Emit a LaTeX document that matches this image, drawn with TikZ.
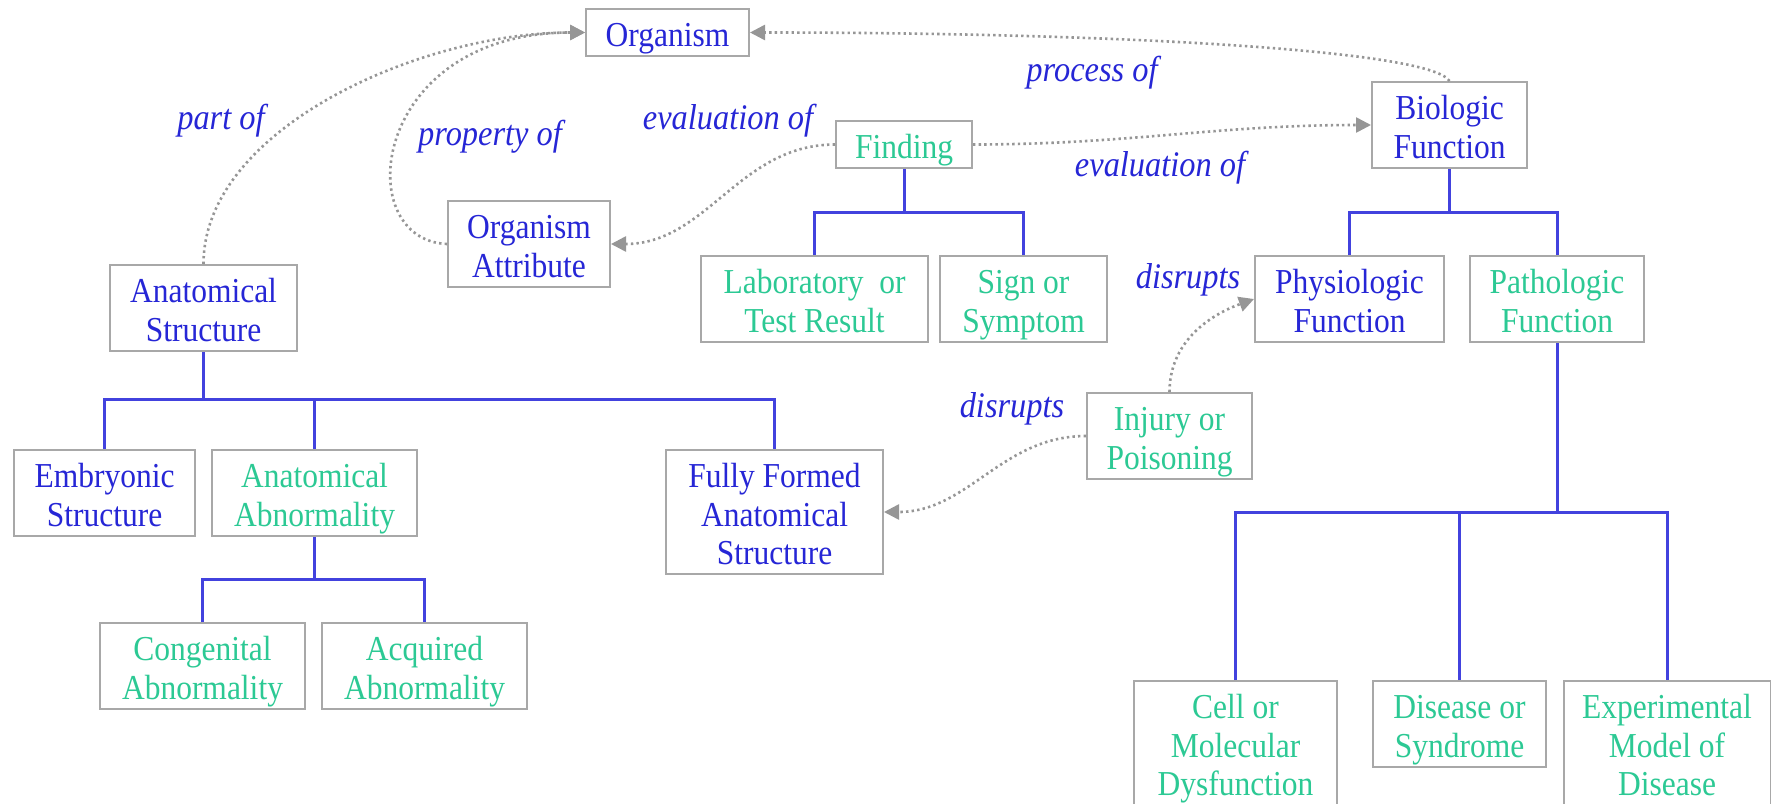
\documentclass[tikz,border=0pt]{standalone}
\usepackage{fontspec}
\setmainfont{Liberation Serif}[FakeStretch=0.9]
\usetikzlibrary{arrows.meta}
\definecolor{tblue}{RGB}{38,38,214}
\definecolor{tgreen}{RGB}{44,201,148}
\definecolor{lblue}{RGB}{66,66,222}
\definecolor{bgray}{RGB}{168,168,168}
\definecolor{agray}{RGB}{150,150,150}
\newcommand\TS{\rule{0pt}{36pt}}
\newcommand\BS{\rule[-8pt]{0pt}{8pt}}
\tikzset{
  box/.style={draw=bgray, line width=2pt, fill=white, align=center, inner sep=0pt,
    font=\fontsize{35}{38.5}\selectfont},
  bt/.style={box, text=tblue},
  gt/.style={box, text=tgreen},
  tree/.style={draw=lblue, line width=3pt},
  rel/.style={draw=agray, line width=2.6pt, dash pattern=on 2.4pt off 3.2pt,
    -{Triangle[length=15pt,width=15pt,fill=agray]}},
  lab/.style={text=tblue, inner sep=0pt, font=\fontsize{36}{40}\selectfont\itshape}
}
\begin{document}
\begin{tikzpicture}[x=1pt,y=-1pt]
\useasboundingbox (0,0) rectangle (1771,803);
\fill[white] (0,0) rectangle (1771,803);

% boxes
\node[bt, minimum width=163, minimum height=47] (org) at (667.5,32.5) {\TS Organism\BS};
\node[bt, minimum width=162, minimum height=86] (oattr) at (529,244) {\TS Organism\\Attribute\BS};
\node[bt, minimum width=187, minimum height=86] (anat) at (203.5,308) {\TS Anatomical\\Structure\BS};
\node[gt, minimum width=136, minimum height=47] (find) at (904,144.5) {\TS Finding\BS};
\node[bt, minimum width=155, minimum height=86] (bio) at (1449.5,125) {\TS Biologic\\Function\BS};
\node[gt, minimum width=227, minimum height=86] (lab) at (814.5,299) {\TS Laboratory\ \ or\\Test Result\BS};
\node[gt, minimum width=167, minimum height=86] (sign) at (1023.5,299) {\TS Sign or\\Symptom\BS};
\node[bt, minimum width=189, minimum height=86] (phys) at (1349.5,299) {\TS Physiologic\\Function\BS};
\node[gt, minimum width=174, minimum height=86] (path) at (1557,299) {\TS Pathologic\\Function\BS};
\node[gt, minimum width=165, minimum height=86] (inj) at (1169.5,436) {\TS Injury or\\Poisoning\BS};
\node[bt, minimum width=181, minimum height=86] (emb) at (104.5,493) {\TS Embryonic\\Structure\BS};
\node[gt, minimum width=205, minimum height=86] (abn) at (314.5,493) {\TS Anatomical\\Abnormality\BS};
\node[bt, minimum width=217, minimum height=124] (full) at (774.5,512) {\TS Fully Formed\\Anatomical\\Structure\BS};
\node[gt, minimum width=205, minimum height=86] (cong) at (202.5,666) {\TS Congenital\\Abnormality\BS};
\node[gt, minimum width=205, minimum height=86] (acq) at (424.5,666) {\TS Acquired\\Abnormality\BS};
\node[gt, minimum width=203, minimum height=124] (cell) at (1235.5,743) {\TS Cell or\\Molecular\\Dysfunction\BS};
\node[gt, minimum width=173, minimum height=86] (dis) at (1459.5,724) {\TS Disease or\\Syndrome\BS};
\node[gt, minimum width=207, minimum height=124] (exp) at (1667,743) {\TS Experimental\\Model of\\Disease\BS};

% tree connectors
\coordinate (j1) at (203.5,399);
\draw[tree] (anat.south) -- (j1);
\draw[tree] (emb.north) |- (j1) -| (full.north);
\draw[tree] (abn.north) -- (abn.north |- j1);

\coordinate (j2) at (314.5,579);
\draw[tree] (abn.south) -- (j2);
\draw[tree] (cong.north) |- (j2) -| (acq.north);

\coordinate (j3) at (904,212);
\draw[tree] (find.south) -- (j3);
\draw[tree] (lab.north) |- (j3) -| (sign.north);

\coordinate (j4) at (1449.5,212);
\draw[tree] (bio.south) -- (j4);
\draw[tree] (phys.north) |- (j4) -| (path.north);

\coordinate (j5) at (1557,512);
\draw[tree] (path.south) -- (j5);
\draw[tree] (cell.north) |- (j5) -| (exp.north);
\draw[tree] (dis.north) -- (dis.north |- j5);

% relations
\draw[rel] (anat.north) .. controls +(0,-135) and +(-165,0) .. (org.west);
\draw[rel] (oattr.west) .. controls +(-98,-4) and +(-215,0) .. (org.west);
\draw[rel] (bio.north) .. controls +(-20,-32) and +(350,0) .. (org.east);
\draw[rel] (find.west) to[out=180,in=0] (oattr.east);
\draw[rel] (find.east) to[out=0,in=180] (bio.west);
\draw[rel] (inj.north) to[out=90,in=200] (phys.west);
\draw[rel] (inj.west) to[out=180,in=0] (full.east);

% labels
\node[lab] (l1) at (221,121) {part of};
\node[lab] (l2) at (490,137) {property of};
\node[lab] (l3) at (728,121) {evaluation of};
\node[lab] (l4) at (1092,73) {process of};
\node[lab] (l5) at (1160,168) {evaluation of};
\node[lab] (l6) at (1188,280) {disrupts};
\node[lab] (l7) at (1012,409) {disrupts};
\end{tikzpicture}
\end{document}
